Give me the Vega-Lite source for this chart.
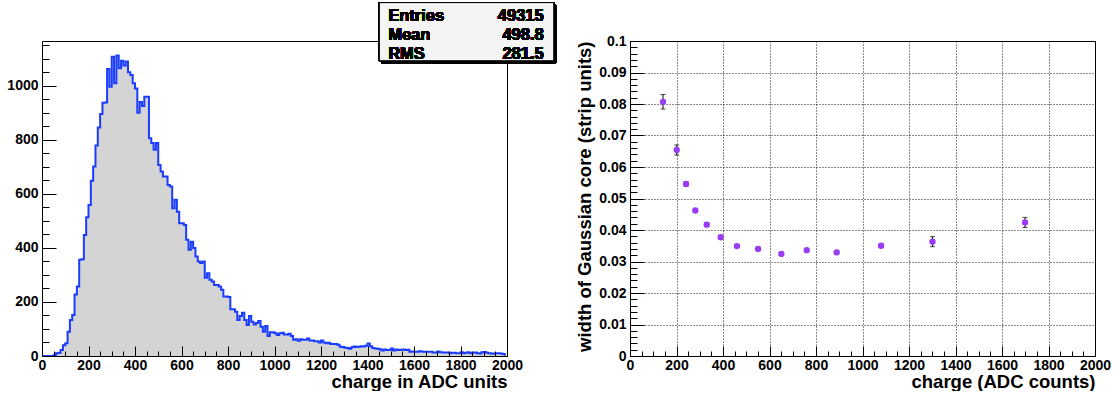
{
  "$schema": "https://vega.github.io/schema/vega-lite/v6.json",
  "background": "white",
  "padding": {"left": 6, "top": 2, "right": 0, "bottom": 0},
  "bounds": "flush",
  "spacing": 123,
  "config": {
    "font": "Liberation Sans",
    "view": {"stroke": "black", "strokeWidth": 1},
    "axis": {
      "labelFont": "Liberation Sans", "labelFontWeight": "bold", "labelFontSize": 14, "labelColor": "black",
      "titleFont": "Liberation Sans", "titleFontWeight": "bold", "titleFontSize": 18.5, "titleColor": "black",
      "domainColor": "black", "tickColor": "black", "grid": false, "labelFlush": false, "labelOverlap": false
    }
  },
  "datasets": {
    "hist": [
      {"charge":5,"entries":0},{"charge":15,"entries":0},{"charge":25,"entries":0},{"charge":35,"entries":0},{"charge":45,"entries":0},
      {"charge":55,"entries":3},{"charge":65,"entries":10},{"charge":75,"entries":12},{"charge":85,"entries":22},{"charge":95,"entries":40},
      {"charge":105,"entries":47},{"charge":115,"entries":90},{"charge":125,"entries":133},{"charge":135,"entries":152},{"charge":145,"entries":228},
      {"charge":155,"entries":257},{"charge":165,"entries":356},{"charge":175,"entries":358},{"charge":185,"entries":448},{"charge":195,"entries":514},
      {"charge":205,"entries":559},{"charge":215,"entries":649},{"charge":225,"entries":701},{"charge":235,"entries":779},{"charge":245,"entries":846},
      {"charge":255,"entries":896},{"charge":265,"entries":937},{"charge":275,"entries":938},{"charge":285,"entries":1062},{"charge":295,"entries":997},
      {"charge":305,"entries":1108},{"charge":315,"entries":1010},{"charge":325,"entries":1112},{"charge":335,"entries":1065},{"charge":345,"entries":1093},
      {"charge":355,"entries":1075},{"charge":365,"entries":1090},{"charge":375,"entries":1050},{"charge":385,"entries":1040},{"charge":395,"entries":1010},
      {"charge":405,"entries":990},{"charge":415,"entries":900},{"charge":425,"entries":940},{"charge":435,"entries":925},{"charge":445,"entries":960},
      {"charge":455,"entries":960},{"charge":465,"entries":806},{"charge":475,"entries":788},{"charge":485,"entries":763},{"charge":495,"entries":788},
      {"charge":505,"entries":707},{"charge":515,"entries":683},{"charge":525,"entries":664},{"charge":535,"entries":664},{"charge":545,"entries":633},
      {"charge":555,"entries":627},{"charge":565,"entries":547},{"charge":575,"entries":578},{"charge":585,"entries":534},{"charge":595,"entries":491},
      {"charge":605,"entries":491},{"charge":615,"entries":485},{"charge":625,"entries":430},{"charge":635,"entries":393},{"charge":645,"entries":423},
      {"charge":655,"entries":400},{"charge":665,"entries":368},{"charge":675,"entries":350},{"charge":685,"entries":344},{"charge":695,"entries":350},
      {"charge":705,"entries":290},{"charge":715,"entries":306},{"charge":725,"entries":282},{"charge":735,"entries":276},{"charge":745,"entries":263},
      {"charge":755,"entries":263},{"charge":765,"entries":257},{"charge":775,"entries":245},{"charge":785,"entries":220},{"charge":795,"entries":220},
      {"charge":805,"entries":218},{"charge":815,"entries":173},{"charge":825,"entries":173},{"charge":835,"entries":164},{"charge":845,"entries":133},
      {"charge":855,"entries":148},{"charge":865,"entries":160},{"charge":875,"entries":133},{"charge":885,"entries":115},{"charge":895,"entries":148},
      {"charge":905,"entries":127},{"charge":915,"entries":117},{"charge":925,"entries":122},{"charge":935,"entries":130},{"charge":945,"entries":108},
      {"charge":955,"entries":90},{"charge":965,"entries":111},{"charge":975,"entries":74},{"charge":985,"entries":88},{"charge":995,"entries":88},
      {"charge":1005,"entries":84},{"charge":1015,"entries":78},{"charge":1025,"entries":84},{"charge":1035,"entries":86},{"charge":1045,"entries":80},
      {"charge":1055,"entries":80},{"charge":1065,"entries":82},{"charge":1075,"entries":74},{"charge":1085,"entries":60},{"charge":1095,"entries":62},
      {"charge":1105,"entries":56},{"charge":1115,"entries":62},{"charge":1125,"entries":60},{"charge":1135,"entries":60},{"charge":1145,"entries":65},
      {"charge":1155,"entries":57},{"charge":1165,"entries":57},{"charge":1175,"entries":55},{"charge":1185,"entries":55},{"charge":1195,"entries":50},
      {"charge":1205,"entries":57},{"charge":1215,"entries":50},{"charge":1225,"entries":47},{"charge":1235,"entries":49},{"charge":1245,"entries":44},
      {"charge":1255,"entries":44},{"charge":1265,"entries":44},{"charge":1275,"entries":42},{"charge":1285,"entries":34},{"charge":1295,"entries":33},
      {"charge":1305,"entries":31},{"charge":1315,"entries":30},{"charge":1325,"entries":27},{"charge":1335,"entries":32},{"charge":1345,"entries":35},
      {"charge":1355,"entries":33},{"charge":1365,"entries":34},{"charge":1375,"entries":36},{"charge":1385,"entries":35},{"charge":1395,"entries":38},
      {"charge":1405,"entries":46},{"charge":1415,"entries":36},{"charge":1425,"entries":30},{"charge":1435,"entries":28},{"charge":1445,"entries":27},
      {"charge":1455,"entries":25},{"charge":1465,"entries":20},{"charge":1475,"entries":24},{"charge":1485,"entries":22},{"charge":1495,"entries":22},
      {"charge":1505,"entries":28},{"charge":1515,"entries":20},{"charge":1525,"entries":24},{"charge":1535,"entries":22},{"charge":1545,"entries":23},
      {"charge":1555,"entries":24},{"charge":1565,"entries":22},{"charge":1575,"entries":23},{"charge":1585,"entries":16},{"charge":1595,"entries":17},
      {"charge":1605,"entries":16},{"charge":1615,"entries":16},{"charge":1625,"entries":18},{"charge":1635,"entries":17},{"charge":1645,"entries":16},
      {"charge":1655,"entries":16},{"charge":1665,"entries":16},{"charge":1675,"entries":16},{"charge":1685,"entries":13},{"charge":1695,"entries":13},
      {"charge":1705,"entries":17},{"charge":1715,"entries":14},{"charge":1725,"entries":13},{"charge":1735,"entries":13},{"charge":1745,"entries":13},
      {"charge":1755,"entries":10},{"charge":1765,"entries":12},{"charge":1775,"entries":12},{"charge":1785,"entries":10},{"charge":1795,"entries":10},
      {"charge":1805,"entries":14},{"charge":1815,"entries":10},{"charge":1825,"entries":12},{"charge":1835,"entries":14},{"charge":1845,"entries":10},
      {"charge":1855,"entries":12},{"charge":1865,"entries":13},{"charge":1875,"entries":10},{"charge":1885,"entries":9},{"charge":1895,"entries":14},
      {"charge":1905,"entries":15},{"charge":1915,"entries":12},{"charge":1925,"entries":10},{"charge":1935,"entries":9},{"charge":1945,"entries":8},
      {"charge":1955,"entries":10},{"charge":1965,"entries":10},{"charge":1975,"entries":9},{"charge":1985,"entries":7},{"charge":1995,"entries":5}
    ],
    "widths": [
      {"charge":142,"width":0.0807,"lo":0.0784,"hi":0.0830},
      {"charge":201,"width":0.0654,"lo":0.0638,"hi":0.0670},
      {"charge":241,"width":0.0546,"lo":0.0539,"hi":0.0553},
      {"charge":281,"width":0.0462,"lo":0.0456,"hi":0.0468},
      {"charge":330,"width":0.0417,"lo":0.0411,"hi":0.0423},
      {"charge":390,"width":0.0377,"lo":0.0371,"hi":0.0383},
      {"charge":460,"width":0.0349,"lo":0.0344,"hi":0.0354},
      {"charge":551,"width":0.0340,"lo":0.0335,"hi":0.0345},
      {"charge":651,"width":0.0324,"lo":0.0319,"hi":0.0329},
      {"charge":760,"width":0.0336,"lo":0.0331,"hi":0.0341},
      {"charge":889,"width":0.0329,"lo":0.0323,"hi":0.0335},
      {"charge":1080,"width":0.0350,"lo":0.0344,"hi":0.0356},
      {"charge":1301,"width":0.0363,"lo":0.0347,"hi":0.0379},
      {"charge":1699,"width":0.0424,"lo":0.0408,"hi":0.0440}
    ]
  },
  "hconcat": [
    {
      "width": 465,
      "height": 315,
      "view": {"stroke": null},
      "data": {"name": "hist"},
      "layer": [
        {
          "mark": {"type": "area", "interpolate": "step", "color": "#d4d4d4"},
          "encoding": {
            "x": {"field": "charge", "type": "quantitative", "scale": {"domain": [0, 2000], "nice": false},
              "axis": {"orient": "bottom", "zindex": 1, "values": [0,200,400,600,800,1000,1200,1400,1600,1800,2000], "format": "d",
                "tickSize": -10, "labelPadding": 12, "title": "charge in ADC units", "titleAnchor": "end", "titleAlign": "right",
                "titleX": 465, "titleY": 31, "titleBaseline": "alphabetic"}},
            "y": {"field": "entries", "type": "quantitative", "scale": {"domain": [0, 1166], "nice": false},
              "axis": {"orient": "left", "zindex": 1, "values": [0,200,400,600,800,1000], "format": "d", "tickSize": -14, "labelPadding": 18, "title": null}}
          }
        },
        {
          "mark": {"type": "line", "interpolate": "step", "color": "#1a3cff", "strokeWidth": 2},
          "encoding": {
            "x": {"field": "charge", "type": "quantitative",
              "axis": {"orient": "bottom", "zindex": 1, "values": [0,50,100,150,200,250,300,350,400,450,500,550,600,650,700,750,800,850,900,950,1000,1050,1100,1150,1200,1250,1300,1350,1400,1450,1500,1550,1600,1650,1700,1750,1800,1850,1900,1950,2000],
                "tickSize": -5, "labels": false, "domain": false, "title": null}},
            "y": {"field": "entries", "type": "quantitative",
              "axis": {"orient": "left", "zindex": 1, "values": [0,50,100,150,200,250,300,350,400,450,500,550,600,650,700,750,800,850,900,950,1000,1050,1100,1150],
                "tickSize": -7, "labels": false, "domain": false, "title": null}}
          }
        },
        {
          "mark": {"type": "rect", "color": "black"},
          "encoding": {
            "x": {"datum": 1460, "type": "quantitative",
              "axis": {"orient": "top", "zindex": 0, "labels": false, "ticks": false, "domain": true, "title": null}},
            "x2": {"datum": 2211},
            "y": {"datum": 1300, "type": "quantitative",
              "axis": {"orient": "right", "zindex": 0, "labels": false, "ticks": false, "domain": true, "title": null}},
            "y2": {"datum": 1083}
          }
        },
        {
          "mark": {"type": "rect", "fill": "#f4f4f4", "stroke": "black", "strokeWidth": 1},
          "encoding": {
            "x": {"datum": 1451, "type": "quantitative", "axis": null},
            "x2": {"datum": 2201},
            "y": {"datum": 1308, "type": "quantitative", "axis": null},
            "y2": {"datum": 1093}
          }
        },
        {
          "mark": {"type": "text", "text": ["Entries", "Mean", "RMS"], "align": "left", "baseline": "middle", "lineHeight": 19.2,
            "font": "Liberation Sans", "fontWeight": "bold", "fontSize": 16.5, "color": "black"},
          "encoding": {
            "x": {"datum": 1489, "type": "quantitative", "axis": null},
            "y": {"datum": 1260, "type": "quantitative", "axis": null}
          }
        },
        {
          "mark": {"type": "text", "text": ["49315", "498.8", "281.5"], "align": "right", "baseline": "middle", "lineHeight": 19.2,
            "font": "Liberation Sans", "fontWeight": "bold", "fontSize": 16.5, "color": "black"},
          "encoding": {
            "x": {"datum": 2158, "type": "quantitative", "axis": null},
            "y": {"datum": 1260, "type": "quantitative", "axis": null}
          }
        }
      ],
      "resolve": {"axis": {"x": "independent", "y": "independent"}}
    },
    {
      "width": 465,
      "height": 315,
      "data": {"name": "widths"},
      "layer": [
        {
          "mark": {"type": "rule", "color": "black", "strokeWidth": 1},
          "encoding": {
            "x": {"field": "charge", "type": "quantitative", "scale": {"domain": [0, 2000], "nice": false},
              "axis": {"orient": "bottom", "values": [0,200,400,600,800,1000,1200,1400,1600,1800,2000], "format": "d",
                "tickSize": -10, "labelPadding": 12, "grid": true, "gridDash": [1, 2], "gridColor": "black", "gridOpacity": 0.9,
                "title": "charge (ADC counts)", "titleAnchor": "end", "titleAlign": "right",
                "titleX": 465, "titleY": 31, "titleBaseline": "alphabetic"}},
            "y": {"field": "lo", "type": "quantitative", "scale": {"domain": [0, 0.1], "nice": false},
              "axis": {"orient": "left", "values": [0,0.01,0.02,0.03,0.04,0.05,0.06,0.07,0.08,0.09,0.1], "format": "~g",
                "tickSize": -14, "labelPadding": 18, "grid": true, "gridDash": [1, 2], "gridColor": "black", "gridOpacity": 0.9,
                "title": "width of Gaussian core (strip units)", "titleAngle": -90, "titleAlign": "right", "titleBaseline": "alphabetic",
                "titleX": -40, "titleY": 0}},
            "y2": {"field": "hi"}
          }
        },
        {
          "mark": {"type": "tick", "orient": "horizontal", "color": "black", "size": 5, "thickness": 1},
          "encoding": {
            "x": {"field": "charge", "type": "quantitative",
              "axis": {"orient": "bottom", "values": [0,50,100,150,200,250,300,350,400,450,500,550,600,650,700,750,800,850,900,950,1000,1050,1100,1150,1200,1250,1300,1350,1400,1450,1500,1550,1600,1650,1700,1750,1800,1850,1900,1950,2000],
                "tickSize": -5, "labels": false, "domain": false, "title": null}},
            "y": {"field": "lo", "type": "quantitative",
              "axis": {"orient": "left", "values": [0,0.002,0.004,0.006,0.008,0.01,0.012,0.014,0.016,0.018,0.02,0.022,0.024,0.026,0.028,0.03,0.032,0.034,0.036,0.038,0.04,0.042,0.044,0.046,0.048,0.05,0.052,0.054,0.056,0.058,0.06,0.062,0.064,0.066,0.068,0.07,0.072,0.074,0.076,0.078,0.08,0.082,0.084,0.086,0.088,0.09,0.092,0.094,0.096,0.098,0.1],
                "tickSize": -7, "labels": false, "domain": false, "title": null}}
          }
        },
        {
          "mark": {"type": "tick", "orient": "horizontal", "color": "black", "size": 5, "thickness": 1},
          "encoding": {
            "x": {"field": "charge", "type": "quantitative", "axis": null},
            "y": {"field": "hi", "type": "quantitative", "axis": null}
          }
        },
        {
          "mark": {"type": "circle", "size": 40, "color": "#9a3cf5", "opacity": 1},
          "encoding": {
            "x": {"field": "charge", "type": "quantitative", "axis": null},
            "y": {"field": "width", "type": "quantitative", "axis": null}
          }
        }
      ],
      "resolve": {"axis": {"x": "independent", "y": "independent"}}
    }
  ]
}
